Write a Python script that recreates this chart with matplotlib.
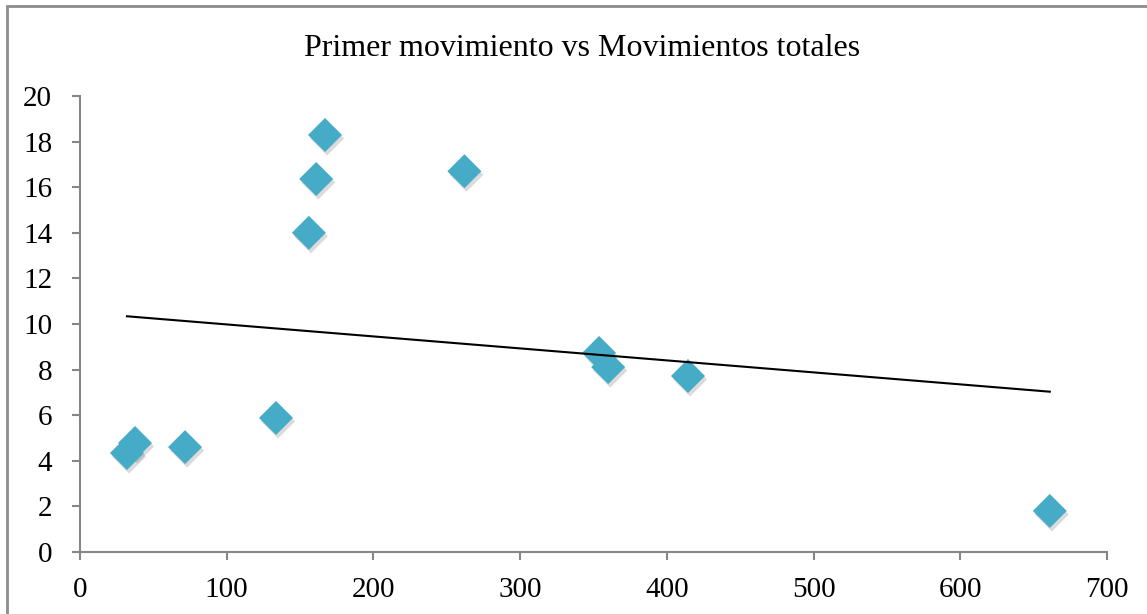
import numpy as np
import matplotlib
matplotlib.use("Agg")
import matplotlib.pyplot as plt
import matplotlib.patheffects as pe
from matplotlib.patches import Rectangle

# Data
primer_mov = [32, 37.5, 71.6, 133.6, 156, 161, 167, 262, 353.8, 360, 414.4, 661]
mov_totales = [4.34, 4.78, 4.6, 5.88, 14.0, 16.36, 18.29, 16.7, 8.73, 8.11, 7.72, 1.80]
x_ticks = [0, 100, 200, 300, 400, 500, 600, 700]
y_ticks = [0, 2, 4, 6, 8, 10, 12, 14, 16, 18, 20]
title = "Primer movimiento vs Movimientos totales"

plt.rcParams['font.family'] = ['Liberation Serif', 'DejaVu Serif']

W, H = 1147, 614
fig = plt.figure(figsize=(W / 100, H / 100), dpi=100)
ax = fig.add_axes([80 / W, 1 - 552 / H, (1107 - 80) / W, (552 - 96) / H])

# Chart border
fig.patches.append(Rectangle((7 / W, -0.1), 1.2, 1 - 6 / H + 0.1, transform=fig.transFigure,
                             fill=False, edgecolor='#8c8c8c', linewidth=2, zorder=0))

x = np.array(primer_mov)
y = np.array(mov_totales)

ax.scatter(x, y, marker='D', s=300, color='#46abc6', edgecolors='none', zorder=3,
           path_effects=[pe.SimplePatchShadow(offset=(1.5, -2.5), shadow_rgbFace='#707070', alpha=0.25),
                         pe.Normal()])

m, b = np.polyfit(x, y, 1)
xs = np.array([x.min(), x.max()])
ax.plot(xs, m * xs + b, color='black', linewidth=1.5, zorder=4)

ax.set_xlim(0, 700)
ax.set_ylim(0, 20)
ax.set_xticks(x_ticks)
ax.set_yticks(y_ticks)
for s in ['top', 'right']:
    ax.spines[s].set_visible(False)
for s in ['left', 'bottom']:
    ax.spines[s].set_color('#868686')
    ax.spines[s].set_linewidth(1.5)
ax.tick_params(axis='both', direction='out', length=6, width=1.5, color='#868686',
               labelsize=21)
ax.tick_params(axis='y', pad=14)
ax.tick_params(axis='x', pad=12)

fig.text(582.5 / W, 1 - 56 / H, title, fontsize=23, ha='center', va='baseline')

fig.savefig("out.png", dpi=100)
